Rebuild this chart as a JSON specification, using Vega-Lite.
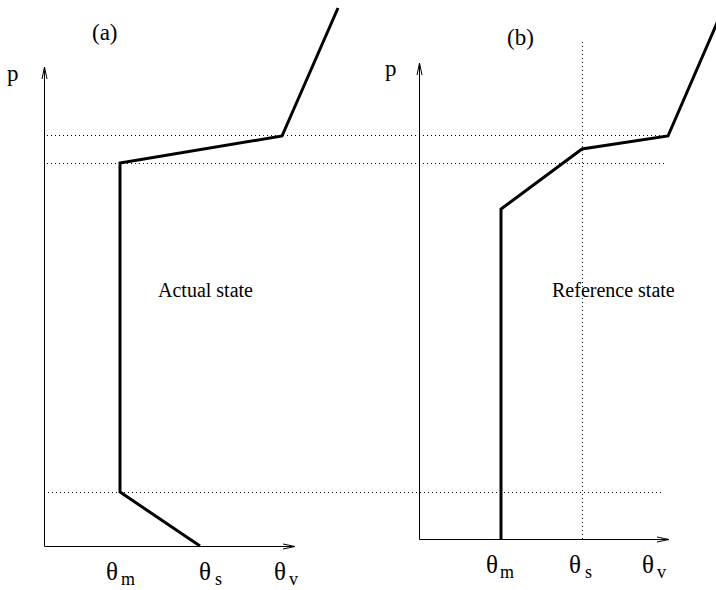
{
  "$schema": "https://vega.github.io/schema/vega-lite/v6.json",
  "width": 716,
  "height": 590,
  "autosize": {"type": "none"},
  "padding": 0,
  "background": "white",
  "config": {"view": {"stroke": null}},
  "datasets": {
    "curves": [
      {"panel": "a", "step": 1, "x": 200, "y": 546},
      {"panel": "a", "step": 2, "x": 120, "y": 492},
      {"panel": "a", "step": 3, "x": 120, "y": 163},
      {"panel": "a", "step": 4, "x": 282, "y": 136},
      {"panel": "a", "step": 5, "x": 338, "y": 8},
      {"panel": "b", "step": 1, "x": 501, "y": 539},
      {"panel": "b", "step": 2, "x": 501, "y": 209},
      {"panel": "b", "step": 3, "x": 582, "y": 149},
      {"panel": "b", "step": 4, "x": 668, "y": 136},
      {"panel": "b", "step": 5, "x": 720, "y": 16}
    ],
    "segments": [
      {"kind": "axis", "x": 44.5, "y": 546.5, "x2": 44.5, "y2": 67},
      {"kind": "axis", "x": 44.5, "y": 546.5, "x2": 295, "y2": 546.5},
      {"kind": "axis", "x": 42, "y": 79, "x2": 44.5, "y2": 67},
      {"kind": "axis", "x": 47, "y": 79, "x2": 44.5, "y2": 67},
      {"kind": "axis", "x": 283, "y": 544, "x2": 295, "y2": 546.5},
      {"kind": "axis", "x": 283, "y": 549, "x2": 295, "y2": 546.5},
      {"kind": "axis", "x": 419.5, "y": 539.5, "x2": 419.5, "y2": 63},
      {"kind": "axis", "x": 419.5, "y": 539.5, "x2": 669, "y2": 539.5},
      {"kind": "axis", "x": 417, "y": 75, "x2": 419.5, "y2": 63},
      {"kind": "axis", "x": 422, "y": 75, "x2": 419.5, "y2": 63},
      {"kind": "axis", "x": 657, "y": 537, "x2": 669, "y2": 539.5},
      {"kind": "axis", "x": 657, "y": 542, "x2": 669, "y2": 539.5},
      {"kind": "guide", "x": 47, "y": 135.5, "x2": 668, "y2": 135.5},
      {"kind": "guide", "x": 47, "y": 163.5, "x2": 667, "y2": 163.5},
      {"kind": "guide", "x": 44, "y": 492.5, "x2": 662, "y2": 492.5},
      {"kind": "guide", "x": 582.5, "y": 42, "x2": 582.5, "y2": 539}
    ],
    "labels": [
      {"kind": "panel", "x": 92, "y": 40, "text": "(a)"},
      {"kind": "panel", "x": 507, "y": 45, "text": "(b)"},
      {"kind": "panel", "x": 7, "y": 81, "text": "p"},
      {"kind": "panel", "x": 385, "y": 76, "text": "p"},
      {"kind": "state", "x": 158, "y": 297, "text": "Actual state"},
      {"kind": "state", "x": 552, "y": 297, "text": "Reference state"},
      {"kind": "theta", "x": 106, "y": 580, "text": "θ"},
      {"kind": "theta", "x": 199, "y": 580, "text": "θ"},
      {"kind": "theta", "x": 274, "y": 580, "text": "θ"},
      {"kind": "theta", "x": 486, "y": 573, "text": "θ"},
      {"kind": "theta", "x": 569, "y": 573, "text": "θ"},
      {"kind": "theta", "x": 642, "y": 573, "text": "θ"},
      {"kind": "sub", "x": 121, "y": 585, "text": "m"},
      {"kind": "sub", "x": 215, "y": 585, "text": "s"},
      {"kind": "sub", "x": 289, "y": 585, "text": "v"},
      {"kind": "sub", "x": 500, "y": 578, "text": "m"},
      {"kind": "sub", "x": 585, "y": 578, "text": "s"},
      {"kind": "sub", "x": 657, "y": 578, "text": "v"}
    ]
  },
  "encoding": {
    "x": {"field": "x", "type": "quantitative", "scale": {"domain": [0, 716], "nice": false, "zero": false}, "axis": null},
    "y": {"field": "y", "type": "quantitative", "scale": {"domain": [0, 590], "reverse": true, "nice": false, "zero": false}, "axis": null}
  },
  "layer": [
    {
      "data": {"name": "segments"},
      "transform": [{"filter": "datum.kind === 'guide'"}],
      "mark": {"type": "rule", "color": "black", "strokeWidth": 1, "strokeDash": [1, 3]},
      "encoding": {"x2": {"field": "x2"}, "y2": {"field": "y2"}}
    },
    {
      "data": {"name": "segments"},
      "transform": [{"filter": "datum.kind === 'axis'"}],
      "mark": {"type": "rule", "color": "black", "strokeWidth": 1},
      "encoding": {"x2": {"field": "x2"}, "y2": {"field": "y2"}}
    },
    {
      "data": {"name": "curves"},
      "mark": {"type": "line", "color": "black", "strokeWidth": 3, "strokeJoin": "miter", "clip": true},
      "encoding": {
        "detail": {"field": "panel", "type": "nominal"},
        "order": {"field": "step", "type": "quantitative"}
      }
    },
    {
      "data": {"name": "labels"},
      "transform": [{"filter": "datum.kind === 'panel'"}],
      "mark": {"type": "text", "font": "Liberation Serif", "fontSize": 23, "align": "left", "baseline": "alphabetic", "color": "black"},
      "encoding": {"text": {"field": "text", "type": "nominal"}}
    },
    {
      "data": {"name": "labels"},
      "transform": [{"filter": "datum.kind === 'state'"}],
      "mark": {"type": "text", "font": "Liberation Serif", "fontSize": 20, "align": "left", "baseline": "alphabetic", "color": "black"},
      "encoding": {"text": {"field": "text", "type": "nominal"}}
    },
    {
      "data": {"name": "labels"},
      "transform": [{"filter": "datum.kind === 'theta'"}],
      "mark": {"type": "text", "font": "Liberation Serif", "fontSize": 25, "align": "left", "baseline": "alphabetic", "color": "black"},
      "encoding": {"text": {"field": "text", "type": "nominal"}}
    },
    {
      "data": {"name": "labels"},
      "transform": [{"filter": "datum.kind === 'sub'"}],
      "mark": {"type": "text", "font": "Liberation Serif", "fontSize": 18, "align": "left", "baseline": "alphabetic", "color": "black"},
      "encoding": {"text": {"field": "text", "type": "nominal"}}
    }
  ]
}
